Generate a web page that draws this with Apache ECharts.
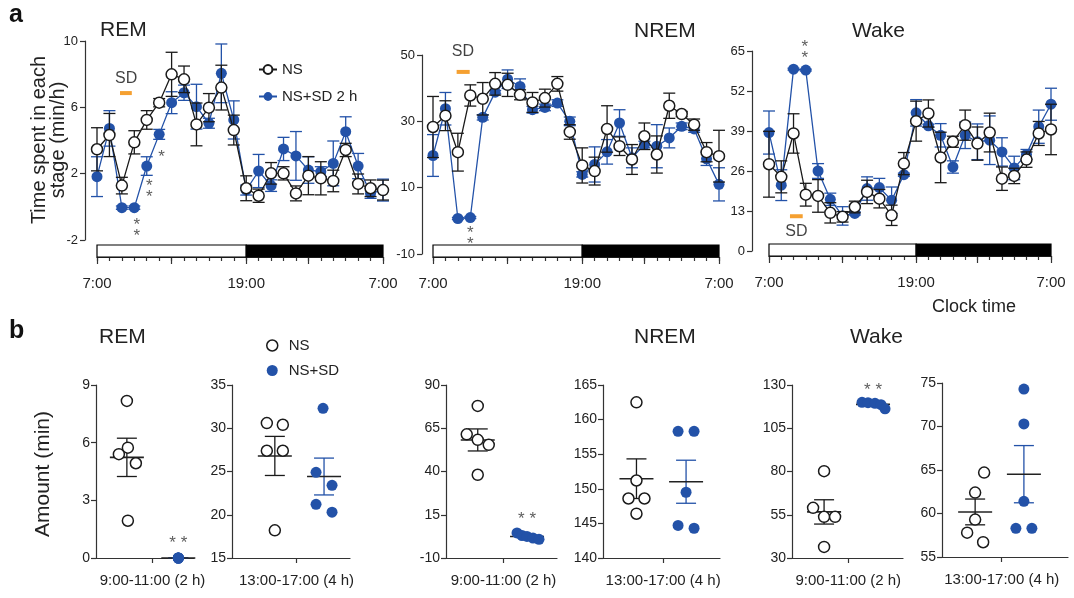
<!DOCTYPE html>
<html>
<head>
<meta charset="utf-8">
<script src="https://cdn.jsdelivr.net/npm/echarts@6/dist/echarts.min.js"></script>
<style>
html, body { margin: 0; padding: 0; background: #fff; }
#chart { width: 1074px; height: 598px; }
</style>
</head>
<body>
<div id="chart"></div>
<script>
// ==============================================================
// data (panel a: hourly values, 7:00 -> 7:00; panel b: 5 mice each)
// ==============================================================
var hourIndex = [0,1,2,3,4,5,6,7,8,9,10,11,12,13,14,15,16,17,18,19,20,21,22,23];
var clockLabels = {0: '7:00', 12: '19:00', 23: '7:00'};
var lightDark = [[0, 12, 0], [12, 23, 1]];

var remNS     = [3.47,4.33,1.28,3.89,5.24,6.28,7.99,7.69,4.97,5.98,7.19,4.63,1.12,0.67,2.02,2.02,0.81,1.88,1.72,1.56,3.43,1.38,1.12,1.01];
var remNSErr  = [1.3,1.3,0.5,0.7,0.56,0.25,1.33,0.8,1.29,0.85,1.35,0.9,0.75,0.4,0.65,0.4,0.45,1.15,1.0,0.65,0.4,0.6,0.5,0.6];
var remSD     = [1.82,4.73,-0.05,-0.05,2.46,4.37,6.28,6.88,6.04,5.04,8.05,5.24,1.01,2.16,1.28,3.49,3.07,2.22,2.12,2.62,4.53,2.46,0.81,1.01];
var remSDErr  = [1.2,1.07,0.1,0.1,0.56,0.3,0.66,0.46,1.35,0.3,1.77,1.15,0.3,1.0,0.35,0.7,1.47,0.8,0.3,1.35,0.9,0.76,0.3,0.66];

var nremNS    = [28.3,31.7,20.7,37.8,36.8,41.3,41.0,38.0,35.7,37.0,41.3,26.8,16.7,15.0,27.7,22.5,18.5,25.5,20.0,34.7,32.2,29.0,20.7,19.5];
var nremNSErr = [9.2,4.5,5.7,3.2,4.9,3.4,3.5,1.5,3.0,2.7,2.2,2.2,5.3,4.2,7.0,2.8,4.5,4.0,5.6,3.8,0.8,1.7,2.9,7.8];
var nremSD    = [19.7,33.8,0.7,1.0,31.2,38.8,42.7,40.5,33.5,34.2,35.5,30.0,14.0,17.0,20.8,29.5,19.0,23.0,22.5,25.0,28.5,27.7,18.7,11.0];
var nremSDErr = [6.3,4.9,0.3,0.3,0.8,0.5,2.8,2.3,1.0,1.0,1.0,1.3,0.8,5.3,3.7,4.0,3.0,1.0,6.5,3.0,1.0,1.0,2.0,5.0];

var wakeNS    = [28.2,24.1,38.2,18.3,17.9,12.4,11.1,14.3,19.2,17.0,11.6,28.4,42.2,44.7,30.4,35.5,40.9,34.9,38.5,23.5,24.4,29.7,38.2,39.5];
var wakeNSErr = [10.7,5.2,6.4,3.7,5.3,3.3,1.7,1.9,3.8,3.0,3.3,3.6,6.5,4.4,8.2,1.8,4.9,5.4,6.3,3.8,2.5,2.5,3.9,8.2];
var wakeSD    = [38.5,21.4,59.1,58.8,26.0,16.8,11.4,12.2,20.3,20.6,16.5,24.8,44.9,40.7,37.6,27.3,37.6,35.5,36.0,32.2,27.0,31.4,40.4,47.7];
var wakeSDErr = [7.0,5.0,0.3,0.3,2.4,2.0,3.0,0.5,3.8,3.0,4.3,0.5,4.3,0.5,3.8,2.0,4.3,5.8,7.9,4.6,3.8,1.6,5.4,5.2];

var remEarlyNS  = [8.17, 5.40, 5.74, 4.93, 1.94];
var remEarlySD  = [0, 0, 0, 0, 0];
var remLateNS   = [30.6, 30.4, 27.4, 27.4, 18.2];
var remLateSD   = [32.3, 24.9, 23.4, 21.2, 20.3];
var nremEarlyNS = [77.9, 61.5, 58.3, 55.4, 38.1];
var nremEarlySD = [4.5, 3.0, 2.5, 1.5, 0.8];
var nremLateNS  = [162.5, 151.2, 148.6, 148.6, 146.4];
var nremLateSD  = [158.3, 158.3, 149.5, 144.7, 144.3];
var wakeEarlyNS = [80.2, 59.0, 53.8, 53.8, 36.4];
var wakeEarlySD = [120.0, 119.8, 119.4, 118.6, 116.2];
var wakeLateNS  = [64.7, 62.4, 59.3, 57.8, 56.7];
var wakeLateSD  = [74.3, 70.3, 61.4, 58.3, 58.3];

// ==============================================================
// styles
// ==============================================================
var FONT = 'Liberation Sans, Arial, sans-serif';
var BLUE = '#2352a8';
var INK = '#1a1a1a';
var AXIS = '#333';
var ORANGE = '#f5a031';
var axisLine = {show: true, onZero: false, lineStyle: {color: AXIS, width: 1.2}};

function errRender(color, cap) {
    return function (params, api) {
        var x = api.value(0), y = api.value(1), e = api.value(2);
        var top = api.coord([x, y + e]), bot = api.coord([x, y - e]);
        var st = {stroke: color, lineWidth: 1.3};
        return {type: 'group', children: [
            {type: 'line', shape: {x1: top[0], y1: top[1], x2: bot[0], y2: bot[1]}, style: st},
            {type: 'line', shape: {x1: top[0] - cap, y1: top[1], x2: top[0] + cap, y2: top[1]}, style: st},
            {type: 'line', shape: {x1: bot[0] - cap, y1: bot[1], x2: bot[0] + cap, y2: bot[1]}, style: st}
        ]};
    };
}

function meanRender(color) {
    var inner = errRender(color, 10);
    return function (params, api) {
        var g = inner(params, api);
        var c = api.coord([api.value(0), api.value(1)]);
        g.children.push({type: 'line', shape: {x1: c[0] - 17, y1: c[1], x2: c[0] + 17, y2: c[1]},
            style: {stroke: '#222', lineWidth: 1.6}});
        return g;
    };
}

function lightDarkRender(params, api) {
    var p0 = api.coord([api.value(0), 1]), p1 = api.coord([api.value(1), 0]);
    var dark = api.value(2) === 1;
    return {type: 'rect', shape: {x: p0[0], y: p0[1], width: p1[0] - p0[0], height: p1[1] - p0[1]},
        style: {fill: dark ? '#000' : '#fff', stroke: '#000', lineWidth: 1.2}};
}

function mean(a) { return a.reduce(function (s, v) { return s + v; }, 0) / a.length; }
function sem(a) {
    var m = mean(a);
    return Math.sqrt(a.reduce(function (s, v) { return s + (v - m) * (v - m); }, 0) / (a.length - 1)) / Math.sqrt(a.length);
}

var grids = [], xAxes = [], yAxes = [], series = [];

// ==============================================================
// panel a
// ==============================================================
var panelsA = [
    {ns: remNS, nsErr: remNSErr, sd: remSD, sdErr: remSDErr,
     grid: {left: 97, top: 41, width: 286, height: 199}, barTop: 245,
     min: -2, max: 10, ticks: [-2, 2, 6, 10], yOffset: 12,
     sdBar: [1.85, 2.8, 6.86], sdText: [2.35, 7.75],
     stars: [[5.2, 3.25, '*'], [4.2, 1.17, '*\n*'], [3.2, -1.19, '*\n*']]},
    {ns: nremNS, nsErr: nremNSErr, sd: nremSD, sdErr: nremSDErr,
     grid: {left: 433, top: 55, width: 286, height: 199}, barTop: 245,
     min: -10, max: 50, ticks: [-10, 10, 30, 50], yOffset: 11,
     sdBar: [1.9, 2.95, 44.9], sdText: [2.4, 51.0],
     stars: [[3.0, -4.2, '*\n*']]},
    {ns: wakeNS, nsErr: wakeNSErr, sd: wakeSD, sdErr: wakeSDErr,
     grid: {left: 769, top: 51, width: 282, height: 200}, barTop: 244,
     min: 0, max: 65, ticks: [0, 13, 26, 39, 52, 65], yOffset: 17,
     sdBar: [1.71, 2.75, 11.3], sdText: [2.23, 6.2],
     stars: [[2.93, 65.8, '*\n*']]}
];

panelsA.forEach(function (p) {
    grids.push(Object.assign({outerBoundsMode: 'none'}, p.grid));
    var g = grids.length - 1;
    xAxes.push({type: 'value', gridIndex: g, min: 0, max: 23, show: false});
    yAxes.push({type: 'value', gridIndex: g, min: p.min, max: p.max, offset: p.yOffset,
        axisLine: axisLine,
        axisTick: {show: true, length: 5, customValues: p.ticks, lineStyle: {color: AXIS, width: 1.2}},
        axisLabel: {customValues: p.ticks, fontSize: 13, color: '#222', fontFamily: FONT, margin: 7},
        splitLine: {show: false}});
    var on = {xAxisIndex: xAxes.length - 1, yAxisIndex: yAxes.length - 1};

    series.push(Object.assign({type: 'custom', silent: true, z: 1, renderItem: errRender(BLUE, 6),
        encode: {x: 0, y: 1},
        data: hourIndex.map(function (i) { return [i, p.sd[i], p.sdErr[i]]; })}, on));
    series.push(Object.assign({type: 'line', name: 'NS+SD 2 h', z: 2, symbol: 'circle', symbolSize: 11,
        showAllSymbol: true, itemStyle: {color: BLUE}, lineStyle: {color: BLUE, width: 1.3},
        data: hourIndex.map(function (i) { return [i, p.sd[i]]; })}, on));
    series.push(Object.assign({type: 'custom', silent: true, z: 3, renderItem: errRender(INK, 6),
        encode: {x: 0, y: 1},
        data: hourIndex.map(function (i) { return [i, p.ns[i], p.nsErr[i]]; })}, on));
    series.push(Object.assign({type: 'line', name: 'NS', z: 4, symbol: 'circle', symbolSize: 11,
        showAllSymbol: true, itemStyle: {color: '#fff', borderColor: INK, borderWidth: 1.5},
        lineStyle: {color: INK, width: 1.3},
        data: hourIndex.map(function (i) { return [i, p.ns[i]]; })}, on));

    // sleep deprivation bar + label, significance stars
    series.push(Object.assign({type: 'line', silent: true, z: 5, symbol: 'none',
        lineStyle: {color: ORANGE, width: 4},
        data: [[p.sdBar[0], p.sdBar[2]], [p.sdBar[1], p.sdBar[2]]]}, on));
    series.push(Object.assign({type: 'scatter', silent: true, clip: false, z: 6, symbolSize: 1,
        itemStyle: {color: 'rgba(0,0,0,0)'},
        label: {show: true, position: 'inside', formatter: 'SD', fontSize: 16, color: '#111', fontFamily: FONT},
        data: [p.sdText]}, on));
    series.push(Object.assign({type: 'scatter', silent: true, clip: false, z: 6, symbolSize: 1,
        itemStyle: {color: 'rgba(0,0,0,0)'},
        label: {show: true, position: 'inside', fontSize: 17, lineHeight: 11, color: '#333',
            fontFamily: FONT, offset: [0, 4]},
        data: p.stars.map(function (s) { return {value: [s[0], s[1]], label: {formatter: s[2]}}; })}, on));

    // light / dark bar with the clock axis
    grids.push({outerBoundsMode: 'none', left: p.grid.left, width: p.grid.width, top: p.barTop, height: 12});
    var bg = grids.length - 1;
    xAxes.push({type: 'value', gridIndex: bg, min: 0, max: 23, position: 'bottom',
        axisLine: axisLine,
        axisTick: {show: true, length: 4, customValues: hourIndex, lineStyle: {color: AXIS, width: 1.2}},
        axisLabel: {customValues: [0, 12, 23], formatter: function (v) { return clockLabels[v]; },
            fontSize: 15, color: '#222', fontFamily: FONT, margin: 19},
        splitLine: {show: false}});
    var bx = xAxes.length - 1;
    xAxes.push({type: 'value', gridIndex: bg, min: 0, max: 23, position: 'bottom',
        axisLine: {show: false},
        axisTick: {show: true, length: 7, customValues: [0, 6, 12, 17, 23], lineStyle: {color: AXIS, width: 1.2}},
        axisLabel: {show: false}, splitLine: {show: false}});
    yAxes.push({type: 'value', gridIndex: bg, min: 0, max: 1, show: false});
    series.push({type: 'custom', silent: true, xAxisIndex: bx, yAxisIndex: yAxes.length - 1,
        renderItem: lightDarkRender, encode: {x: [0, 1], y: 2}, data: lightDark});
});

// ==============================================================
// panel b
// ==============================================================
var panelsB = [
    {ns: remEarlyNS, sd: remEarlySD, nsJit: [0, -8, 1, 9, 1], sdJit: [0, 0, 0, 0, 0],
     label: '9:00-11:00 (2 h)', grid: {left: 96, top: 385, width: 98, height: 173},
     min: 0, max: 9, ticks: [0, 3, 6, 9], nsX: 0.315, sdX: 0.84, tickX: 0.576, stars: 0.95},
    {ns: remLateNS, sd: remLateSD, nsJit: [-8, 8, -8, 8, 0], sdJit: [-1, -8, 8, -8, 8],
     label: '13:00-17:00 (4 h)', grid: {left: 232, top: 385, width: 118, height: 173},
     min: 15, max: 35, ticks: [15, 20, 25, 30, 35], nsX: 0.363, sdX: 0.78, tickX: 0.547},
    {ns: nremEarlyNS, sd: nremEarlySD, nsJit: [0, -11, 0, 11, 0], sdJit: [-10, -5, 0, 6, 12],
     label: '9:00-11:00 (2 h)', grid: {left: 446, top: 385, width: 111, height: 173},
     min: -10, max: 90, ticks: [-10, 15, 40, 65, 90], nsX: 0.286, sdX: 0.73, tickX: 0.518, stars: 14.9},
    {ns: nremLateNS, sd: nremLateSD, nsJit: [0, 0, -8, 8, 0], sdJit: [-8, 8, 0, -8, 8],
     label: '13:00-17:00 (4 h)', grid: {left: 603, top: 385, width: 117, height: 173},
     min: 140, max: 165, ticks: [140, 145, 150, 155, 160, 165], nsX: 0.286, sdX: 0.71, tickX: 0.514},
    {ns: wakeEarlyNS, sd: wakeEarlySD, nsJit: [0, -11, 0, 11, 0], sdJit: [-11, -5, 2, 8, 12],
     label: '9:00-11:00 (2 h)', grid: {left: 792, top: 385, width: 111, height: 173},
     min: 30, max: 130, ticks: [30, 55, 80, 105, 130], nsX: 0.289, sdX: 0.73, tickX: 0.507, stars: 129},
    {ns: wakeLateNS, sd: wakeLateSD, nsJit: [9, 0, 0, -8, 8], sdJit: [0, 0, 0, -8, 8],
     label: '13:00-17:00 (4 h)', grid: {left: 942, top: 383, width: 126, height: 174},
     min: 55, max: 75, ticks: [55, 60, 65, 70, 75], nsX: 0.263, sdX: 0.65, tickX: 0.474}
];

panelsB.forEach(function (p) {
    grids.push(Object.assign({outerBoundsMode: 'none'}, p.grid));
    var g = grids.length - 1;
    xAxes.push({type: 'value', gridIndex: g, min: 0, max: 1,
        axisLine: axisLine,
        axisTick: {show: true, length: 5, customValues: [p.tickX], lineStyle: {color: AXIS, width: 1.2}},
        axisLabel: {customValues: [p.tickX], formatter: function () { return p.label; },
            fontSize: 15, color: '#222', fontFamily: FONT, margin: 15},
        splitLine: {show: false}});
    yAxes.push({type: 'value', gridIndex: g, min: p.min, max: p.max,
        axisLine: axisLine,
        axisTick: {show: true, length: 5, customValues: p.ticks, lineStyle: {color: AXIS, width: 1.2}},
        axisLabel: {customValues: p.ticks, fontSize: 14, color: '#222', fontFamily: FONT, margin: 6},
        splitLine: {show: false}});
    var on = {xAxisIndex: xAxes.length - 1, yAxisIndex: yAxes.length - 1};

    series.push(Object.assign({type: 'custom', silent: true, z: 1, renderItem: meanRender(INK),
        encode: {x: 0, y: 1}, data: [[p.nsX, mean(p.ns), sem(p.ns)]]}, on));
    series.push(Object.assign({type: 'custom', silent: true, z: 1, renderItem: meanRender(BLUE),
        encode: {x: 0, y: 1}, data: [[p.sdX, mean(p.sd), sem(p.sd)]]}, on));
    series.push(Object.assign({type: 'scatter', name: 'NS', z: 3, symbolSize: 11, clip: false,
        itemStyle: {color: '#fff', borderColor: INK, borderWidth: 1.5, opacity: 1},
        data: p.ns.map(function (v, i) { return {value: [p.nsX, v], symbolOffset: [p.nsJit[i], 0]}; })}, on));
    series.push(Object.assign({type: 'scatter', name: 'NS+SD', z: 3, symbolSize: 11, clip: false,
        itemStyle: {color: BLUE, opacity: 1},
        data: p.sd.map(function (v, i) { return {value: [p.sdX, v], symbolOffset: [p.sdJit[i], 0]}; })}, on));
    if (p.stars !== undefined) {
        series.push(Object.assign({type: 'scatter', silent: true, clip: false, z: 6, symbolSize: 1,
            itemStyle: {color: 'rgba(0,0,0,0)'},
            label: {show: true, position: 'inside', formatter: '* *', fontSize: 17, color: '#333',
                fontFamily: FONT, offset: [0, 4]},
            data: [[p.sdX, p.stars]]}, on));
    }
});

// ==============================================================
// text
// ==============================================================
function txt(x, y, text, size, extra) {
    return Object.assign({type: 'text', x: x, y: y, silent: true,
        style: Object.assign({text: text, font: size + 'px ' + FONT, fill: '#222',
            align: 'left', verticalAlign: 'middle'}, extra || {})});
}

var graphics = [
    txt(9, 15, 'a', 25, {font: 'bold 25px ' + FONT, fill: '#111'}),
    txt(9, 331, 'b', 25, {font: 'bold 25px ' + FONT, fill: '#111'}),
    txt(100, 30, 'REM', 21),
    txt(634, 31, 'NREM', 21),
    txt(852, 31, 'Wake', 21),
    txt(99, 337, 'REM', 21),
    txt(634, 337, 'NREM', 21),
    txt(850, 337, 'Wake', 21),
    txt(932, 307, 'Clock time', 18),
    Object.assign(txt(49, 140, 'Time spent in each\nstage (min/h)', 20, {align: 'center', lineHeight: 19}),
        {rotation: Math.PI / 2}),
    Object.assign(txt(43, 474, 'Amount (min)', 21, {align: 'center'}), {rotation: Math.PI / 2})
];

var chart = echarts.init(document.getElementById('chart'));
chart.setOption({
    animation: false,
    backgroundColor: '#fff',
    textStyle: {fontFamily: FONT},
    grid: grids,
    xAxis: xAxes,
    yAxis: yAxes,
    legend: [
        {left: 253, top: 57, orient: 'vertical', selectedMode: false, itemWidth: 18, itemHeight: 11,
         itemGap: 12, textStyle: {fontSize: 15, color: '#222', fontFamily: FONT},
         data: ['NS', 'NS+SD 2 h']},
        {left: 261, top: 333, orient: 'vertical', selectedMode: false, itemWidth: 11, itemHeight: 11,
         itemGap: 10, textStyle: {fontSize: 15, color: '#222', fontFamily: FONT, padding: [0, 0, 0, 6]},
         data: [{name: 'NS', icon: 'circle', itemStyle: {color: '#fff', borderColor: INK, borderWidth: 1.5}},
                {name: 'NS+SD', icon: 'circle', itemStyle: {color: BLUE}}]}
    ],
    series: series,
    graphic: graphics
});
</script>
</body>
</html>
